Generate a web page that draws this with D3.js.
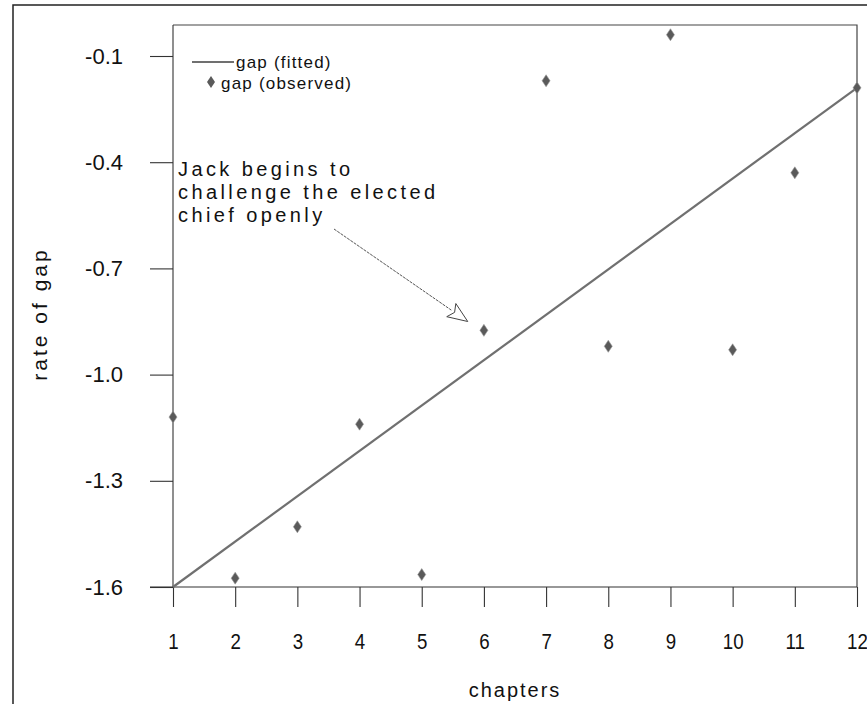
<!DOCTYPE html>
<html>
<head>
<meta charset="utf-8">
<script src="https://cdn.jsdelivr.net/npm/d3@7"></script>
<style>
  body { margin: 0; background: #fff; }
  svg { display: block; font-family: "Liberation Sans", Arial, sans-serif; }
</style>
</head>
<body>
<svg id="chart" width="867" height="704"></svg>
<script>
// chapter numbers and observed rate of gap
const chapters = [1, 2, 3, 4, 5, 6, 7, 8, 9, 10, 11, 12];
const observed = [-1.12, -1.575, -1.43, -1.14, -1.565, -0.875, -0.17, -0.92, -0.04, -0.93, -0.43, -0.19];
// fitted line, ends
const fittedX = [1, 12];
const fittedY = [-1.6, -0.19];
const yTicks = [-1.6, -1.3, -1.0, -0.7, -0.4, -0.1];
const noteLines = ["Jack begins to", "challenge the elected", "chief openly"];
const noteTip = [5.74, -0.85];

const svg = d3.select("#chart");
const frame = { left: 173, right: 857, top: 25, bottom: 587 };

const x = d3.scaleLinear().domain([1, 12]).range([frame.left, frame.right]);
const y = d3.scaleLinear().domain([-1.6, -0.1]).range([frame.bottom, 56]);

// outer border (runs off the right and bottom edges)
svg.append("rect")
    .attr("x", 13).attr("y", 5)
    .attr("width", 900).attr("height", 760)
    .attr("fill", "none").attr("stroke", "#222").attr("stroke-width", 1.5);

// plot box: top and right sides
svg.append("path")
    .attr("d", `M${frame.left},${frame.top}H${frame.right}V${frame.bottom}`)
    .attr("fill", "none").attr("stroke", "#444").attr("stroke-width", 1.2);

// axes (plain hyphen for the minus sign, as in the original)
const yAxis = d3.axisLeft(y)
    .tickValues(yTicks)
    .tickSize(23)
    .tickPadding(27)
    .tickFormat(d => d.toFixed(1));
const gy = svg.append("g").attr("transform", `translate(${frame.left},0)`).call(yAxis);
gy.select(".domain").attr("d", `M0,${frame.top}V${frame.bottom}`);

const xAxis = d3.axisBottom(x)
    .tickValues(chapters)
    .tickSize(20)
    .tickPadding(26)
    .tickFormat(d => String(d));
const gx = svg.append("g").attr("transform", `translate(0,${frame.bottom})`).call(xAxis);
gx.select(".domain").attr("d", `M${frame.left - 23},0H${frame.right}`);

svg.selectAll(".domain, .tick line").attr("stroke", "#333").attr("stroke-width", 1.1);
svg.selectAll(".tick text")
    .attr("fill", "#111")
    .style("font-size", "22px")
    .style("font-family", "'Liberation Sans', Arial, sans-serif");
// the original digits are narrow; squeeze them so "12" stays inside the page
gx.selectAll(".tick text").attr("transform", "scale(0.85,1)");

// axis titles
svg.append("text")
    .attr("x", (frame.left + frame.right) / 2)
    .attr("y", 697)
    .attr("text-anchor", "middle")
    .style("font-size", "20px")
    .style("letter-spacing", "2px")
    .attr("fill", "#111")
    .text("chapters");

svg.append("text")
    .attr("transform", `translate(47,314) rotate(-90)`)
    .attr("text-anchor", "middle")
    .style("font-size", "21px")
    .style("letter-spacing", "3px")
    .attr("fill", "#111")
    .text("rate of gap");

// fitted line
const line = d3.line().x(d => x(d[0])).y(d => y(d[1]));
svg.append("path")
    .datum(d3.zip(fittedX, fittedY))
    .attr("d", line)
    .attr("fill", "none")
    .attr("stroke", "#707070")
    .attr("stroke-width", 2.2);

// observed points as small diamonds
const diamond = "M0,-6L4,0L0,6L-4,0Z";
svg.append("g").selectAll("path")
    .data(d3.zip(chapters, observed))
    .join("path")
    .attr("transform", d => `translate(${x(d[0])},${y(d[1])})`)
    .attr("d", diamond)
    .attr("fill", "#5a5a5a")
    .attr("stroke", "#999")
    .attr("stroke-width", 0.6);

// legend
const legend = svg.append("g").style("font-size", "17px").style("letter-spacing", "1.2px").attr("fill", "#111");
legend.append("line")
    .attr("x1", 192).attr("x2", 234).attr("y1", 62).attr("y2", 62)
    .attr("stroke", "#707070").attr("stroke-width", 2.2);
legend.append("text").attr("x", 236).attr("y", 68).text("gap (fitted)");
legend.append("path")
    .attr("transform", "translate(211,82)")
    .attr("d", diamond)
    .attr("fill", "#5a5a5a");
legend.append("text").attr("x", 221).attr("y", 89).text("gap (observed)");

// annotation
const note = svg.append("text")
    .style("font-size", "20px")
    .style("letter-spacing", "3.4px")
    .attr("fill", "#111");
note.selectAll("tspan")
    .data(noteLines)
    .join("tspan")
    .attr("x", 178)
    .attr("y", (d, i) => 176 + i * 23)
    .text(d => d);

const tip = [x(noteTip[0]), y(noteTip[1])];
const start = [334, 229];
const ang = Math.atan2(tip[1] - start[1], tip[0] - start[0]);
const headLen = 20, headW = 8;
const bx = tip[0] - headLen * Math.cos(ang), by = tip[1] - headLen * Math.sin(ang);
svg.append("line")
    .attr("x1", start[0]).attr("y1", start[1])
    .attr("x2", bx).attr("y2", by)
    .attr("stroke", "#555").attr("stroke-width", 1)
    .attr("stroke-dasharray", "3,1");
svg.append("path")
    .attr("d", `M${tip[0]},${tip[1]}L${bx - headW * Math.sin(ang)},${by + headW * Math.cos(ang)}L${bx + 4 * Math.cos(ang)},${by + 4 * Math.sin(ang)}L${bx + headW * Math.sin(ang)},${by - headW * Math.cos(ang)}Z`)
    .attr("fill", "#fff")
    .attr("stroke", "#444")
    .attr("stroke-width", 1);
</script>
</body>
</html>
